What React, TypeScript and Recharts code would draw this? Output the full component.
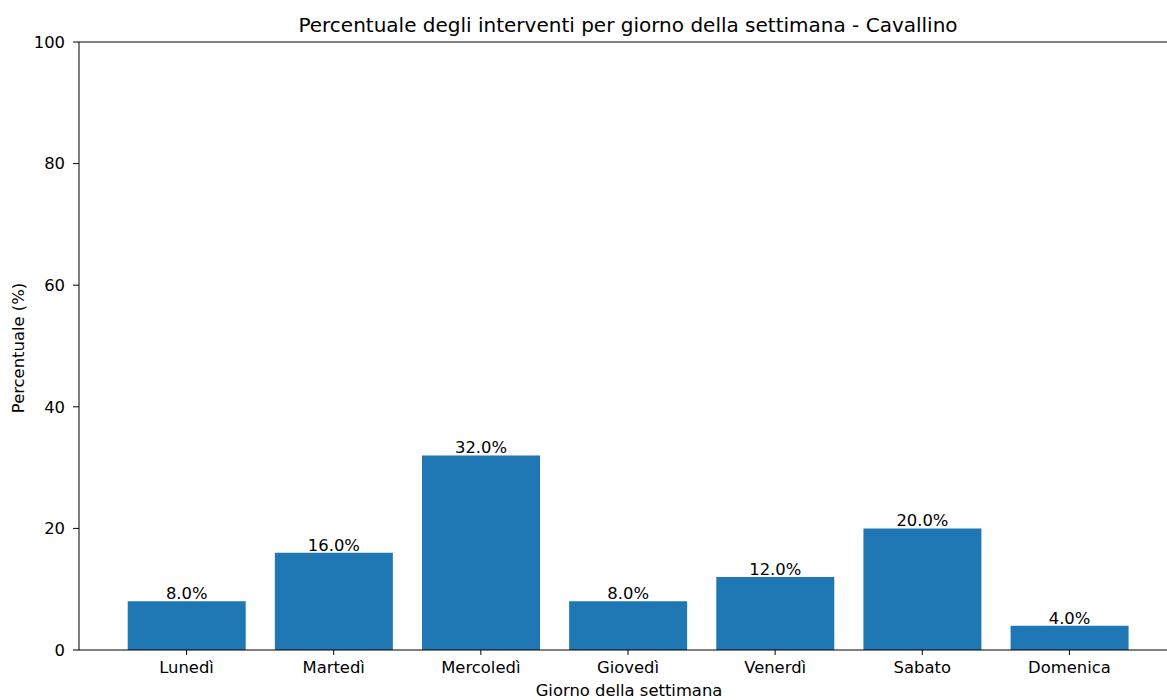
import React from "react";
import { BarChart, Bar, XAxis, YAxis, LabelList, ReferenceLine } from "recharts";

const days = ["Lunedì", "Martedì", "Mercoledì", "Giovedì", "Venerdì", "Sabato", "Domenica"];
const percentages = [8.0, 16.0, 32.0, 8.0, 12.0, 20.0, 4.0];
const yTicks = [0, 20, 40, 60, 80, 100];

const data = days.map((d, i) => ({ day: d, pct: percentages[i] }));

const FONT = "'DejaVu Sans', sans-serif";
const TICK = 16.4;

export default function App() {
  return (
    <div style={{ position: "absolute", left: 0, top: 0, width: 1167, height: 700, overflow: "hidden", background: "#fff", fontFamily: FONT }}>
      <BarChart
        width={1200}
        height={700}
        data={data}
        margin={{ top: 42, right: 21, bottom: 0, left: 0 }}
        barCategoryGap="10%"
      >
        <XAxis
          dataKey="day"
          height={50}
          padding={{ left: 34, right: 36 }}
          tickSize={5}
          tickMargin={6}
          axisLine={{ stroke: "#000", strokeWidth: 1 }}
          tickLine={{ stroke: "#000" }}
          tick={{ fill: "#000", fontSize: TICK, fontFamily: FONT }}
          interval={0}
        />
        <YAxis
          width={79}
          domain={[0, 100]}
          ticks={yTicks}
          tickSize={6}
          tickMargin={8}
          axisLine={{ stroke: "#000", strokeWidth: 1 }}
          tickLine={{ stroke: "#000" }}
          tick={{ fill: "#000", fontSize: TICK, fontFamily: FONT }}
          allowDataOverflow
        />
        <ReferenceLine y={100} stroke="#000" strokeWidth={1} />
        <Bar dataKey="pct" fill="#1f77b4" isAnimationActive={false}>
          <LabelList
            dataKey="pct"
            position="top"
            offset={2}
            formatter={(v: any) => `${Number(v).toFixed(1)}%`}
            style={{ fill: "#000", fontSize: TICK, fontFamily: FONT }}
          />
        </Bar>
      </BarChart>
      <div style={{ position: "absolute", left: 0, width: 1256, top: 13, lineHeight: "24px", fontSize: 20, textAlign: "center", color: "#000", whiteSpace: "nowrap" }}>
        Percentuale degli interventi per giorno della settimana - Cavallino
      </div>
      <div style={{ position: "absolute", left: 0, width: 1258, top: 680, lineHeight: "22px", fontSize: TICK, textAlign: "center", color: "#000" }}>
        Giorno della settimana
      </div>
      <div style={{ position: "absolute", left: 19, top: 348, width: 0, height: 0 }}>
        <div style={{ position: "absolute", left: -100, top: -11, width: 200, lineHeight: "22px", fontSize: TICK, textAlign: "center", color: "#000", transform: "rotate(-90deg)", whiteSpace: "nowrap" }}>
          Percentuale (%)
        </div>
      </div>
    </div>
  );
}
